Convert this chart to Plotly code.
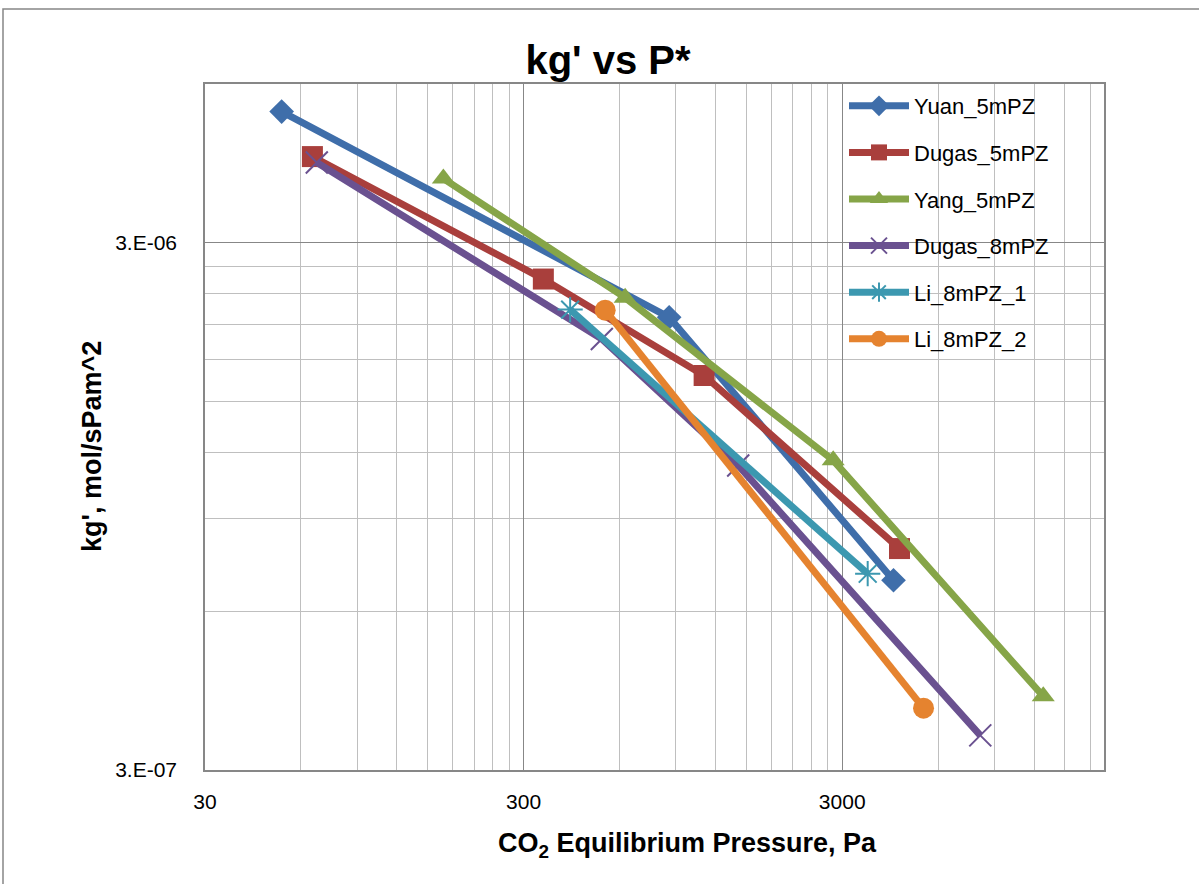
import math
import plotly.graph_objects as go

# ---- data ----
series_names = ["Yuan_5mPZ", "Dugas_5mPZ", "Yang_5mPZ", "Dugas_8mPZ", "Li_8mPZ_1", "Li_8mPZ_2"]

yuan_5mpz_p = [52.2, 859, 4347]
yuan_5mpz_kg = [5.32e-6, 2.166e-6, 6.87e-7]

dugas_5mpz_p = [65.2, 346, 1106, 4539]
dugas_5mpz_kg = [4.37e-6, 2.56e-6, 1.68e-6, 7.89e-7]

yang_5mpz_p = [168, 625, 2811, 12828]
yang_5mpz_kg = [3.97e-6, 2.36e-6, 1.16e-6, 4.14e-7]

dugas_8mpz_p = [67.3, 528, 1415, 8139]
dugas_8mpz_kg = [4.26e-6, 1.97e-6, 1.134e-6, 3.49e-7]

li_8mpz_1_p = [420, 3607]
li_8mpz_1_kg = [2.24e-6, 7.07e-7]

li_8mpz_2_p = [541, 5400]
li_8mpz_2_kg = [2.235e-6, 3.93e-7]

x_tick_vals = [30, 300, 3000]
x_tick_text = ["30", "300", "3000"]
y_tick_vals = [3e-7, 3e-6]
y_tick_text = ["3.E-07", "3.E-06"]

x_minor_vals = [30 * k * 10 ** d for d in range(3) for k in range(2, 10)]
y_minor_vals = [3e-7 * k * 10 ** d for d in range(2) for k in range(2, 10)]

# ---- styles ----
FONT = "Liberation Sans, Arial, sans-serif"
styles = [
    dict(color="#3F6EAA", symbol="diamond", size=19, lw=0),
    dict(color="#A93F3C", symbol="square", size=21, lw=0),
    dict(color="#86A548", symbol="triangle-up", size=20, lw=0),
    dict(color="#6A5190", symbol="x-thin", size=22, lw=2),
    dict(color="#3C98B0", symbol="asterisk", size=21, lw=2),
    dict(color="#E5832F", symbol="circle", size=21, lw=0),
]
xs = [yuan_5mpz_p, dugas_5mpz_p, yang_5mpz_p, dugas_8mpz_p, li_8mpz_1_p, li_8mpz_2_p]
ys = [yuan_5mpz_kg, dugas_5mpz_kg, yang_5mpz_kg, dugas_8mpz_kg, li_8mpz_1_kg, li_8mpz_2_kg]

fig = go.Figure()
for i, (name, x, y, st) in enumerate(zip(series_names, xs, ys, styles)):
    marker = dict(symbol=st["symbol"], size=st["size"], color=st["color"])
    if st["lw"]:
        marker["line"] = dict(color=st["color"], width=st["lw"])
    fig.add_trace(go.Scatter(
        x=x, y=y, name=name, mode="lines+markers",
        line=dict(color=st["color"], width=7),
        marker=marker, legendgroup=name,
    ))

L, R, T, B = 205, 95, 84, 114
W, H = 1199, 884
pw = W - L - R
ph = H - T - B

fig.update_layout(
    width=W, height=H,
    margin=dict(l=L, r=R, t=T, b=B),
    paper_bgcolor="white", plot_bgcolor="white",
    font=dict(family=FONT, color="black"),
    title=dict(text="<b>kg' vs P*</b>", x=608 / W, xref="container", xanchor="center",
               y=1 - 60 / H, yref="container", yanchor="middle",
               font=dict(size=40, family=FONT, color="black")),
    showlegend=True,
    legend=dict(x=(844 - L) / pw, xanchor="left", y=1 - (85 - T) / ph, yanchor="top",
                bgcolor="rgba(0,0,0,0)", font=dict(size=22, family=FONT),
                itemwidth=60, tracegroupgap=15, traceorder="grouped"),
    xaxis=dict(type="log", range=[math.log10(30), math.log10(19900)],
               tickmode="array", tickvals=x_tick_vals, ticktext=x_tick_text,
               tickfont=dict(size=21), ticks="", ticklabelstandoff=12,
               showgrid=True, gridcolor="#878787", gridwidth=1,
               minor=dict(tickmode="array", tickvals=x_minor_vals, showgrid=True,
                          gridcolor="#BFBFBF", gridwidth=1, ticks=""),
               showline=True, linecolor="#878787", linewidth=1.5, mirror=True,
               zeroline=False),
    xaxis2=dict(type="log", range=[math.log10(30), math.log10(19900)], overlaying="x",
                side="top", anchor="y", tickmode="array", tickvals=x_tick_vals,
                ticks="outside", ticklen=8, tickcolor="#878787", tickwidth=1,
                showticklabels=False, showgrid=False, showline=False, matches="x"),
    yaxis=dict(type="log", range=[math.log10(3e-7), math.log10(6e-6)],
               tickmode="array", tickvals=y_tick_vals, ticktext=y_tick_text,
               tickfont=dict(size=21), ticks="", ticklabelstandoff=22,
               showgrid=True, gridcolor="#878787", gridwidth=1,
               minor=dict(tickmode="array", tickvals=y_minor_vals, showgrid=True,
                          gridcolor="#BFBFBF", gridwidth=1, ticks=""),
               showline=True, linecolor="#878787", linewidth=1.5, mirror=True,
               zeroline=False),
    annotations=[
        dict(text="<b>CO<sub>2</sub> Equilibrium Pressure, Pa</b>", xref="paper", yref="paper",
             x=(687 - L) / pw, y=-(845 - (H - B)) / ph, xanchor="center", yanchor="middle",
             showarrow=False, font=dict(size=27, family=FONT, color="black")),
        dict(text="<b>kg', mol/sPam^2</b>", xref="paper", yref="paper",
             x=(92 - L) / pw, y=((H - B) - 447) / ph, xanchor="center", yanchor="middle",
             textangle=-90, showarrow=False, font=dict(size=27, family=FONT, color="black")),
    ],
    shapes=[
        dict(type="rect", xref="paper", yref="paper",
             x0=(3 - L) / pw, x1=1.5, y0=-1.0, y1=((H - B) - 9) / ph,
             line=dict(color="#868686", width=1.5), fillcolor="rgba(0,0,0,0)", layer="below"),
    ],
)

fig.write_html("out.html", config={"displayModeBar": False},
               post_script="document.body.style.margin='0';")
